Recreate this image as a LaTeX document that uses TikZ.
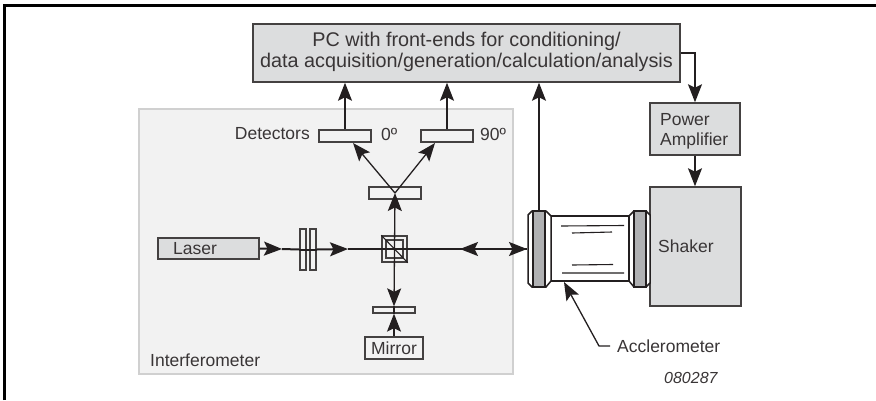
\documentclass[tikz,border=0pt]{standalone}
\usepackage{fontspec}
\setmainfont{Liberation Sans}
\usetikzlibrary{arrows.meta,positioning}
\definecolor{ink}{HTML}{231F20}
\definecolor{boxgrey}{HTML}{DCDDDE}
\definecolor{panel}{HTML}{F2F2F2}
\definecolor{panelline}{HTML}{D0D0D0}
\definecolor{ring}{HTML}{B0B1B3}
\tikzset{
  tip/.tip={Stealth[length=18pt,width=14pt,inset=3.5pt]},
  wire/.style={draw=ink,line width=1.3pt,-tip},
  beam/.style={draw=ink,line width=2pt},
  greybox/.style={draw=ink!85,line width=1.5pt,fill=boxgrey,inner sep=0pt},
  plate/.style={draw=ink!85,line width=1.3pt,fill=panel,inner sep=0pt},
  textlabel/.style={inner sep=0pt,text=ink!90,font=\fontsize{17.5}{20}\selectfont},
  rect/.style args={#1x#2}{minimum width=#1pt,minimum height=#2pt},
}
\begin{document}
\begin{tikzpicture}[x=1pt,y=-1pt]
\useasboundingbox (0,0) rectangle (876,400);
% frame (top and left only)
\draw[black,line width=2.2pt] (4.5,400) -- (4.5,5.5) -- (876,5.5);
% panel
\node[draw=panelline,line width=2pt,fill=panel,rect=374x265,inner sep=0pt] (panel) at (326,241.5) {};
% boxes
\node[greybox,rect=427x58] (pc) at (466.5,53) {};
\node[textlabel,align=center,font=\fontsize{19.8}{21.7}\selectfont] (pctext) at (466.5,52) {PC with front-ends for conditioning/\\data acquisition/generation/calculation/analysis};
\node[greybox,rect=90x52] (amp) at (695,129) {};
\node[textlabel,anchor=west] (power) at (660,120) {Power};
\node[textlabel,anchor=west] (amplifier) at (660,141) {Amplifier};
\node[greybox,rect=91x119] (shaker) at (695.5,246.5) {};
\node[textlabel,anchor=west] (shakertext) at (658,246) {Shaker};
\node[greybox,rect=101x21] (laser) at (208.5,248.5) {};
\node[textlabel,anchor=west] (lasertext) at (173,248.5) {Laser};
% detectors
\node[plate,rect=52x12] (det0) at (345,136) {};
\node[plate,rect=52x12] (det90) at (447,136) {};
\node[textlabel,anchor=east] (dettext) at (310,134) {Detectors};
\node[textlabel,anchor=west] (zero) at (381,134) {0º};
\node[textlabel,anchor=west] (ninety) at (480,134) {90º};
\node[plate,rect=52x12] (split) at (395,193) {};
\coordinate (splitc) at (395,193);
\coordinate (det0in) at (353,143);
\coordinate (det90in) at (435,143);
% waveplates
\node[plate,rect=6x41] (wp1) at (303,249.5) {};
\node[plate,rect=6x41] (wp2) at (313,249.5) {};
% mirror assembly
\node[plate,rect=42x6] (mplate) at (394,310) {};
\node[plate,rect=58x22,textlabel] (mirror) at (394,348) {Mirror};
% beams
\coordinate (bsc) at (394.5,249);
\coordinate (ringin) at (527,249);
\coordinate (split1) at (282,249);
\coordinate (split2) at (348,249);
\coordinate (leftarrow) at (460,249);
\node[draw=ink!85,line width=1.3pt,rect=25x26,inner sep=0pt] (bs) at (394.5,249) {};
\node[draw=ink!85,line width=1.3pt,rect=17x18,inner sep=0pt] (bsin) at (394.5,249) {};
\draw[ink,line width=1.1pt] (bs.north west) -- (bs.south east);
\draw[wire] (bs.center) -- (split.center);
\draw[wire] (splitc) -- (det0in);
\draw[wire] (splitc) -- (det90in);
\draw[wire] (det0.north) -- (pc.south -| det0.north);
\draw[wire] (det90.north) -- (pc.south -| det90.north);
\draw[wire] (bs.center) -- (mplate.north);
\draw[wire] (mirror.north) -- (mplate.south);
\draw[ink,line width=1.1pt] (mplate.north) -- (mplate.south);
\draw[beam,-tip] (laser.east) -- (split1);
\draw[beam] (split1) -- (wp1.west);
\draw[beam] (wp1.west) -- (wp2.east);
\draw[beam,-tip] (wp2.east) -- (split2);
\draw[beam] (split2) -- (bs.center);
\draw[beam,-tip] (bs.center) -- (ringin);
\draw[beam,-tip] (ringin) -- (leftarrow);
% accelerometer
\node[draw=ink,line width=1.5pt,fill=white,rect=78x65,inner sep=0pt] (body) at (590,248.5) {};
\draw[ink,line width=1.5pt,fill=white] (532,211) -- (546,211) -- (551,216) -- (551,281) -- (546,287) -- (532,287) -- (528,283) -- (528,215) -- cycle;
\node[draw=ink,line width=1.2pt,fill=ring,rect=12x76,inner sep=0pt] (ringl) at (539,249) {};
\draw[ink,line width=1.5pt,fill=white] (634,211) -- (646,211) -- (650,215) -- (650,283) -- (646,287) -- (634,287) -- (629,281) -- (629,216) -- cycle;
\node[draw=ink,line width=1.2pt,fill=ring,rect=12x76,inner sep=0pt] (ringr) at (640,249) {};
\draw[ink,line width=1.1pt] (561,226) -- (624,225.5) (572,233) -- (612,232) (572,265) -- (613,264.5) (562,273) -- (624,273);
% right-hand connectors
\draw[wire] (ringl.north) -- (pc.south -| ringl.north);
\coordinate (pcout) at (pc.east |- 0,53);
\draw[wire] (pcout) -| (amp.north);
\draw[wire] (amp.south) -- (amp.south |- shaker.north);
% labels
\node[textlabel,anchor=west] (acc) at (617,346) {Acclerometer};
\coordinate (accbend) at (599,346);
\coordinate (acctip) at (564,282);
\draw[wire] (acc.west) ++(-7,0) -- (accbend) -- (acctip);
\node[textlabel,anchor=west] (interf) at (150,360) {Interferometer};
\node[textlabel,anchor=west,font=\fontsize{16}{18}\selectfont\itshape] (code) at (664,378) {080287};
\end{tikzpicture}
\end{document}
